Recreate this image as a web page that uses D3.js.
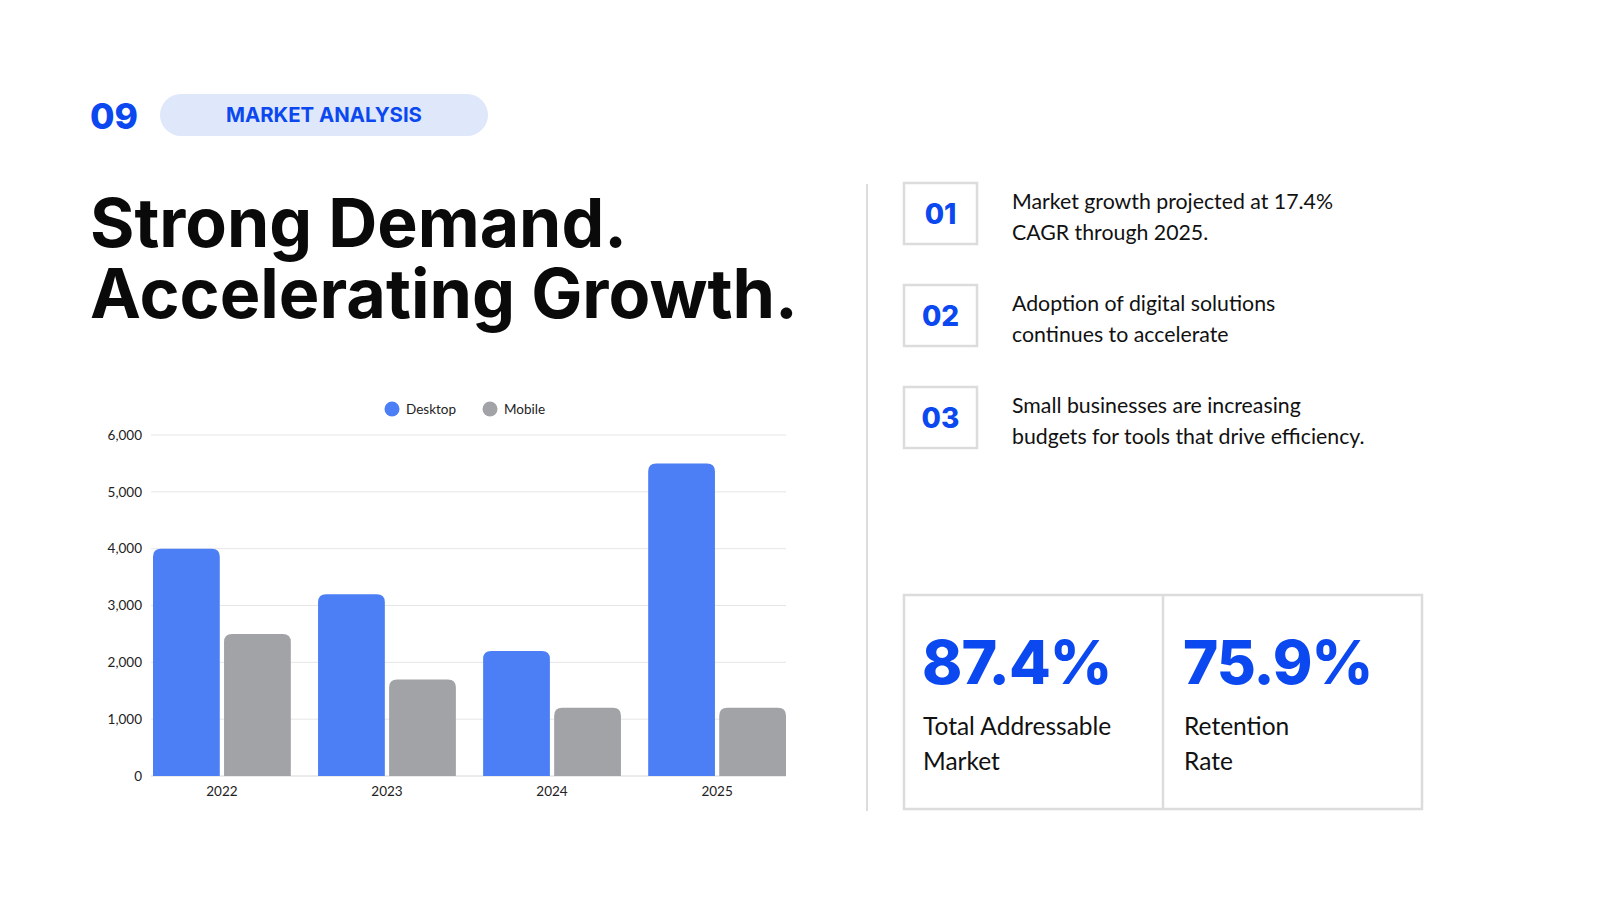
<!DOCTYPE html>
<html><head><meta charset="utf-8">
<script src="https://cdn.jsdelivr.net/npm/d3@7"></script>
<style>
html,body{margin:0;padding:0;background:#fff;}
svg{display:block;}
</style></head>
<body>
<svg id="c" width="1600" height="900"></svg>
<script>
const years = ["2022","2023","2024","2025"];
const seriesNames = ["Desktop","Mobile"];
const desktop = [4000,3200,2200,5500];
const mobile = [2500,1700,1200,1200];
const yTicks = [0,1000,2000,3000,4000,5000,6000];
const pointNums = ["01","02","03"];
const pointLines = [
  ["Market growth projected at 17.4%","CAGR through 2025."],
  ["Adoption of digital solutions","continues to accelerate"],
  ["Small businesses are increasing","budgets for tools that drive efficiency."]
];
const statValues = ["87.4%","75.9%"];
const statLabels = [["Total Addressable","Market"],["Retention","Rate"]];

const BLUE = "#0b48f0";
const colors = {Desktop:"#4c7ff5", Mobile:"#a2a3a7"};
const headFont = "Inter, 'Noto Sans', sans-serif";
const bodyFont = "Lato, 'Open Sans', sans-serif";

const svg = d3.select("#c");

function fitText(sel, target){
  const w = sel.node().getComputedTextLength();
  const fs = parseFloat(sel.attr("font-size"));
  sel.attr("font-size", fs*target/w);
}

// header
svg.append("text").attr("x",90).attr("y",129).text("09")
  .attr("font-family",headFont).attr("font-weight",800).attr("font-size",40).attr("fill",BLUE)
  .call(s=>fitText(s,48));
svg.append("rect").attr("x",160).attr("y",94).attr("width",328).attr("height",42).attr("rx",21)
  .attr("fill","#dfe7fb");
svg.append("text").attr("x",324).attr("y",122).attr("text-anchor","middle").text("MARKET ANALYSIS")
  .attr("font-family",headFont).attr("font-weight",700).attr("font-size",20).attr("fill",BLUE)
  .call(s=>fitText(s,196));

// title
const t1 = svg.append("text").attr("x",90).attr("y",247).text("Strong Demand.")
  .attr("font-family",headFont).attr("font-weight",700).attr("font-size",70).attr("fill","#0a0a0a");
fitText(t1,537);
const t2 = svg.append("text").attr("x",90).attr("y",318).text("Accelerating Growth.")
  .attr("font-family",headFont).attr("font-weight",700).attr("font-size",70).attr("fill","#0a0a0a");
fitText(t2,708);

// divider
svg.append("line").attr("x1",867).attr("x2",867).attr("y1",184).attr("y2",811)
  .attr("stroke","#dcdcdc").attr("stroke-width",2);

// chart
const y = d3.scaleLinear().domain([0,6000]).range([776,435]);
const x0 = d3.scaleBand().domain(years).range([153,786]).paddingInner(0.165).paddingOuter(0);
const x1 = d3.scaleBand().domain(seriesNames).range([0,x0.bandwidth()]).paddingInner(0.06);

const g = svg.append("g");
g.selectAll("line.grid").data(yTicks).join("line").attr("class","grid")
  .attr("x1",151).attr("x2",786).attr("y1",d=>y(d)).attr("y2",d=>y(d))
  .attr("stroke",d=>d===0?"#d8d8d8":"#e6e6e6").attr("stroke-width",1);
const yAxis = d3.axisLeft(y).tickValues(yTicks).tickFormat(d3.format(",")).tickSize(0).tickPadding(0);
const ya = g.append("g").attr("transform","translate(142,0)").call(yAxis);
ya.select(".domain").remove();
ya.selectAll("text").attr("font-family",bodyFont).attr("font-size",13.5).attr("fill","#222").attr("dy","0.32em");

const xAxis = d3.axisBottom(x0).tickSize(0).tickPadding(0);
const xa = g.append("g").attr("transform","translate(0,786)").call(xAxis);
xa.select(".domain").remove();
xa.selectAll("text").attr("font-family",bodyFont).attr("font-size",13.5).attr("fill","#222").attr("dy","0.71em");

function topRounded(x,yTop,w,h,r){
  r=Math.min(r,h,w/2);
  return `M${x},${yTop+h}V${yTop+r}Q${x},${yTop} ${x+r},${yTop}H${x+w-r}Q${x+w},${yTop} ${x+w},${yTop+r}V${yTop+h}Z`;
}
const rows = years.map((yr,i)=>({year:yr, vals:[{s:"Desktop",v:desktop[i]},{s:"Mobile",v:mobile[i]}]}));
g.selectAll("g.grp").data(rows).join("g").attr("class","grp")
  .attr("transform",d=>`translate(${x0(d.year)},0)`)
  .selectAll("path").data(d=>d.vals).join("path")
  .attr("d",d=>topRounded(x1(d.s),y(d.v),x1.bandwidth(),y(0)-y(d.v),8))
  .attr("fill",d=>colors[d.s]);

// legend
const legX = [392,490];
const lg = svg.append("g");
seriesNames.forEach((s,i)=>{
  lg.append("circle").attr("cx",legX[i]).attr("cy",409).attr("r",7.5).attr("fill",colors[s]);
  lg.append("text").attr("x",legX[i]+14).attr("y",409).attr("dy","0.35em").text(s)
    .attr("font-family",bodyFont).attr("font-size",13.5).attr("fill","#222");
});

// points
const boxY = [183,285,387];
pointNums.forEach((n,i)=>{
  svg.append("rect").attr("x",904).attr("y",boxY[i]).attr("width",73).attr("height",61)
    .attr("fill","#fff").attr("stroke","#dcdcdc").attr("stroke-width",2.5);
  svg.append("text").attr("x",940.5).attr("y",boxY[i]+31).attr("dy","0.36em").attr("text-anchor","middle")
    .text(n).attr("font-family",headFont).attr("font-weight",800).attr("font-size",28).attr("fill",BLUE);
  pointLines[i].forEach((ln,j)=>{
    svg.append("text").attr("x",1012).attr("y",boxY[i]+26+j*31).text(ln)
      .attr("font-family",bodyFont).attr("font-size",21.3).attr("fill","#111");
  });
});

// stats
svg.append("rect").attr("x",904).attr("y",595).attr("width",518).attr("height",214)
  .attr("fill","none").attr("stroke","#dcdcdc").attr("stroke-width",2.5);
svg.append("line").attr("x1",1163).attr("x2",1163).attr("y1",595).attr("y2",809)
  .attr("stroke","#dcdcdc").attr("stroke-width",2.5);
const statX = [922,1183];
statValues.forEach((v,i)=>{
  svg.append("text").attr("x",statX[i]).attr("y",684).text(v)
    .attr("font-family",headFont).attr("font-weight",800).attr("font-size",68).attr("fill",BLUE)
    .attr("letter-spacing",-1)
    .call(s=>fitText(s,190));
  statLabels[i].forEach((ln,j)=>{
    svg.append("text").attr("x",statX[i]+1).attr("y",735+j*35).text(ln)
      .attr("font-family",bodyFont).attr("font-size",24.5).attr("fill","#111");
  });
});
</script>
</body></html>
